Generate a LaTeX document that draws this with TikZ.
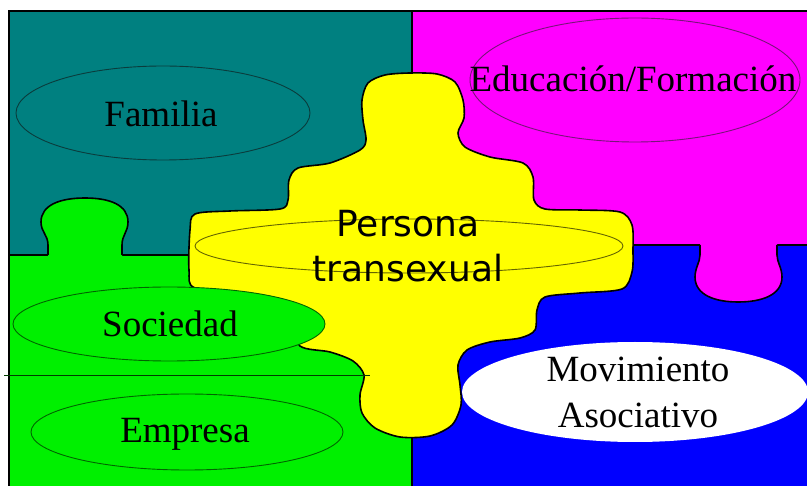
\documentclass[tikz,border=0pt]{standalone}
\usepackage{fontspec}
\setmainfont{Liberation Serif}
\newfontfamily\personafont{DejaVu Sans}
\definecolor{cteal}{RGB}{0,128,128}
\definecolor{cmag}{RGB}{255,0,255}
\definecolor{cgreen}{RGB}{0,240,0}
\definecolor{cblue}{RGB}{0,0,255}
\definecolor{cyel}{RGB}{255,255,0}
\definecolor{tealline}{RGB}{10,60,60}
\definecolor{magline}{RGB}{120,20,120}
\definecolor{greenline}{RGB}{0,100,0}
\definecolor{oliveline}{RGB}{100,100,0}
\begin{document}
\begin{tikzpicture}[x=1pt,y=-1pt,
  border/.style={draw=black,line width=1.6pt},
  thinell/.style={line width=0.9pt},
  lbl/.style={font=\fontsize{37}{46}\selectfont,inner sep=0pt,anchor=base,align=center,text=black},
  plbl/.style={font=\personafont\fontsize{36}{45}\selectfont,inner sep=0pt,anchor=base,align=center,text=black}]
\useasboundingbox (0,0) rectangle (807,486);
\fill[white] (0,0) rectangle (807,486);
% quadrants
\fill[cteal] (9,11) rectangle (412,255);
\fill[cmag] (412,11) rectangle (807,245);
\fill[cgreen] (9,255) rectangle (412,486);
\fill[cblue] (412,245) rectangle (807,486);
% boundaries
\draw[border] (9,255) -- (48,255);
\draw[border] (122,255) -- (412,255);
\draw[border] (412,245) -- (700,245);
\draw[border] (777,245) -- (807,245);
\draw[border] (412,11) -- (412,486);
\draw[border] (9,486) -- (9,11) -- (807,11);
% green knob
\fill[cgreen] (48,256) -- (48,245) .. controls (48,235) and (41,232) .. (41,222)
  .. controls (41,205) and (60,198) .. (85,198) .. controls (110,198) and (128,205) .. (128,222)
  .. controls (128,232) and (122,235) .. (122,245) -- (122,256) -- cycle;
\draw[border] (48,255) -- (48,245) .. controls (48,235) and (41,232) .. (41,222)
  .. controls (41,205) and (60,198) .. (85,198) .. controls (110,198) and (128,205) .. (128,222)
  .. controls (128,232) and (122,235) .. (122,245) -- (122,255);
% magenta knob
\fill[cmag] (700,244) -- (700,255) .. controls (700,262) and (695,268) .. (695,277)
  .. controls (695,295) and (715,302) .. (738,302) .. controls (762,302) and (782,295) .. (782,277)
  .. controls (782,268) and (777,262) .. (777,255) -- (777,244) -- cycle;
\draw[border] (700,245) -- (700,255) .. controls (700,262) and (695,268) .. (695,277)
  .. controls (695,295) and (715,302) .. (738,302) .. controls (762,302) and (782,295) .. (782,277)
  .. controls (782,268) and (777,262) .. (777,255) -- (777,245);
% background ellipses
\filldraw[fill=cteal,draw=tealline,thinell] (163,113) ellipse [x radius=147pt, y radius=47pt];
\filldraw[fill=cmag,draw=magline,thinell] (635,80) ellipse [x radius=165pt, y radius=62pt];
\filldraw[fill=cgreen,draw=greenline,thinell] (187,432) ellipse [x radius=156pt, y radius=38pt];
% yellow piece
\filldraw[fill=cyel,draw=black,line width=1.6pt] plot[smooth cycle, tension=0.5] coordinates {
 (385,75) (410,73) (437,74) (455,82) (463,100) (464,118) (458,133) (465,147) (490,157)
 (523,163) (533,177) (534,200) (545,209) (580,210) (620,212) (632,225) (633,250) (632,272)
 (622,289) (580,293) (545,297) (537,310) (535,330) (520,338) (490,342) (467,350) (458,365)
 (460,385) (461,405) (452,425) (430,436) (400,437) (375,428) (362,413) (360,395) (364,375)
 (353,361) (330,352) (300,346) (290,320) (250,295) (195,288) (189,270) (190,230) (195,214)
 (230,211) (280,209) (288,200) (289,180) (298,168) (330,163) (360,150) (366,140) (363,120)
 (362,100) (368,83)};
% foreground ellipses
\filldraw[fill=cgreen,draw=greenline,thinell] (169,324) ellipse [x radius=156pt, y radius=37pt];
\fill[white] (635,392) ellipse [x radius=173pt, y radius=50pt];
\draw[oliveline,thinell] (409,246) ellipse [x radius=214pt, y radius=27pt];
\draw[draw=greenline!60!black,line width=0.7pt] (4,375) -- (370,375);
% labels
\node[lbl] (fam) at (161,127) {Familia};
\node[lbl] (edu) at (633,92) {Educación/Formación};
\node[lbl] (soc) at (170,337) {Sociedad};
\node[lbl] (emp) at (185,443) {Empresa};
\node[lbl] (mov) at (638,428) {Movimiento\\Asociativo};
\node[plbl] (per) at (408,282) {Persona\\transexual};
\end{tikzpicture}
\end{document}
